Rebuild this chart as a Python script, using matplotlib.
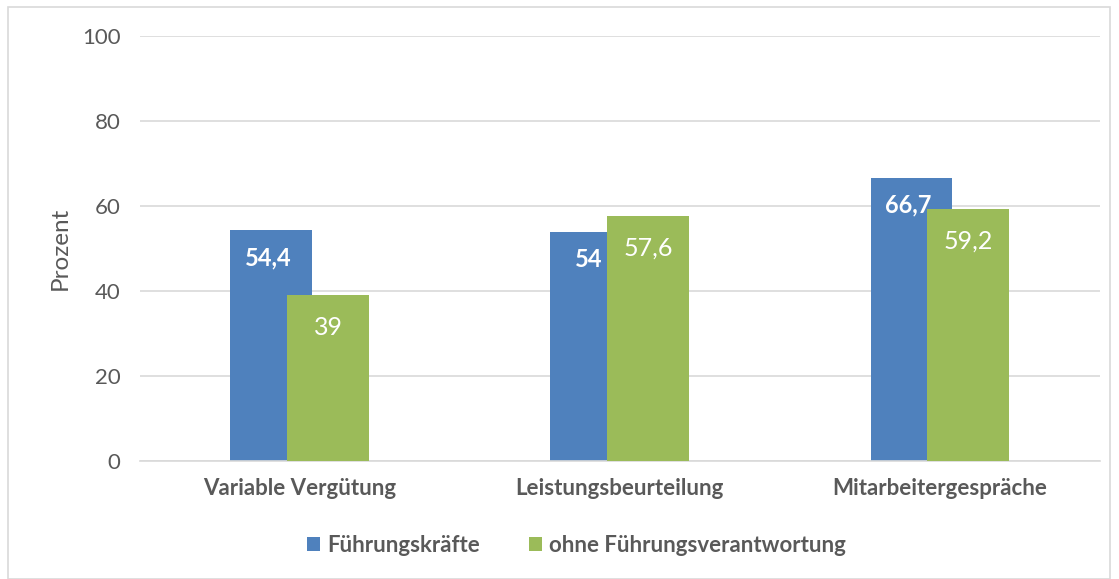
import matplotlib.pyplot as plt
import matplotlib.patches as patches
import numpy as np

categories = ["Variable Vergütung", "Leistungsbeurteilung", "Mitarbeitergespräche"]
fuehrung = [54.4, 54.0, 66.7]
ohne = [39.0, 57.6, 59.2]
labels_fuehrung = ["54,4", "54", "66,7"]
labels_ohne = ["39", "57,6", "59,2"]
series_names = ["Führungskräfte", "ohne Führungsverantwortung"]

BLUE = "#4F81BD"
GREEN = "#9BBB59"
TEXT = "#595959"

plt.rcParams['font.family'] = ['Lato', 'DejaVu Sans']

fig = plt.figure(figsize=(11.19, 5.79), dpi=100)
ax = fig.add_axes([0.125, 0.2038, 0.858, 0.734])

# light frame around the whole chart
fig.patches.append(patches.Rectangle((0.007, 0.0), 0.985, 0.988, transform=fig.transFigure,
                                     fill=False, edgecolor="#D9D9D9", linewidth=1.2))

x = np.arange(len(categories))
w = 0.256
off = 0.089
b1 = ax.bar(x - off, fuehrung, w, color=BLUE, zorder=2, label=series_names[0])
b2 = ax.bar(x + off, ohne, w, color=GREEN, zorder=3, label=series_names[1])

for rect, lab in zip(b1, labels_fuehrung):
    ax.annotate(lab, (rect.get_x() + rect.get_width() / 2 - 0.01, rect.get_height()),
                xytext=(0, -20), textcoords="offset points", ha="center", va="center",
                color="white", fontsize=17, fontweight="bold", zorder=5)
for rect, lab in zip(b2, labels_ohne):
    ax.annotate(lab, (rect.get_x() + rect.get_width() / 2, rect.get_height()),
                xytext=(0, -23), textcoords="offset points", ha="center", va="center",
                color="white", fontsize=18, zorder=5)

ax.set_xlim(-0.5, 2.5)
ax.set_ylim(0, 100)
ax.set_yticks(range(0, 101, 20))
ax.yaxis.grid(True, color="#D9D9D9", linewidth=1.2, zorder=0)
ax.set_axisbelow(True)
for s in ["top", "right", "left"]:
    ax.spines[s].set_visible(False)
ax.spines["bottom"].set_color("#D9D9D9")
ax.spines["bottom"].set_linewidth(1.2)
ax.tick_params(length=0)
ax.tick_params(axis="y", labelsize=16, labelcolor=TEXT, pad=14)
ax.set_xticks(x)
ax.set_xticklabels(categories, fontsize=16, fontweight="bold", color=TEXT)
ax.tick_params(axis="x", pad=12)
ax.set_ylabel("Prozent", fontsize=17.5, color=TEXT, labelpad=8)

fig.legend(loc="center", bbox_to_anchor=(0.515, 0.058), ncol=2, frameon=False,
           prop={"weight": "bold", "size": 16}, labelcolor=TEXT,
           handlelength=0.6, handleheight=0.6, handletextpad=0.3, columnspacing=2.2)

fig.savefig("out.png", dpi=100)
